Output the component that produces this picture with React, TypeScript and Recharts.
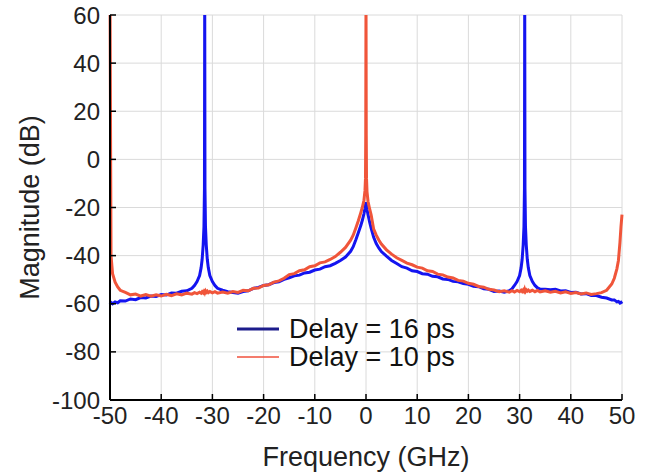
import React from 'react';
import {
  LineChart,
  Line,
  XAxis,
  YAxis,
  CartesianGrid,
  Legend,
  Label
} from 'recharts';

const FONT = '"Liberation Sans", Arial, Helvetica, sans-serif';

// frequency grid (GHz), denser around the tones
const freq = [
  -50, -49.8, -49.5, -49, -48.5, -48, -47, -46, -45, -44,
  -43, -42, -41, -40, -39, -38, -37, -36, -35, -34,
  -33.5, -33, -32.5, -32.2, -32, -31.8, -31.65, -31.55, -31.5, -31.45,
  -31.35, -31.2, -31, -30.8, -30.5, -30, -29.5, -29, -28, -27,
  -26, -25, -24, -23, -22, -21, -20, -19, -18, -17,
  -16, -15, -14, -13, -12, -11, -10, -9, -8, -7,
  -6, -5, -4, -3, -2.5, -2, -1.5, -1, -0.7, -0.4,
  -0.2, -0.1, -0.05, 0, 0.05, 0.1, 0.2, 0.4, 0.7, 1,
  1.5, 2, 2.5, 3, 4, 5, 6, 7, 8, 9,
  10, 11, 12, 13, 14, 15, 16, 17, 18, 19,
  20, 21, 22, 23, 24, 25, 26, 27, 28, 28.5,
  29, 29.5, 30, 30.3, 30.5, 30.7, 30.85, 30.95, 31, 31.05,
  31.15, 31.3, 31.5, 31.7, 32, 32.5, 33, 33.5, 34, 35,
  36, 37, 38, 39, 40, 41, 42, 43, 44, 45,
  46, 47, 48, 48.5, 49, 49.3, 49.6, 49.8, 50
];

// Delay = 16 ps (dB)
const delay16 = [
  -60.2, -59.5, -60.0, -59.2, -59.6, -58.8, -58.9, -58.0, -58.3, -57.4,
  -57.6, -56.8, -57.0, -56.2, -56.4, -55.5, -55.6, -54.8, -54.6, -53.6,
  -52.4, -50.8, -48.3, -45.0, -41.5, -35.5, -28.0, -12.0, 70, -12.0,
  -28.0, -35.5, -41.5, -45.0, -48.3, -50.8, -52.4, -53.6, -54.4, -55.0,
  -55.3, -55.6, -54.9, -54.6, -53.6, -53.2, -52.4, -52.1, -51.2, -50.9,
  -49.9, -49.2, -48.4, -48.1, -47.2, -46.9, -46.0, -45.6, -44.6, -44.2,
  -43.2, -42.0, -40.6, -38.2, -36.3, -33.5, -30.5, -27.4, -25.2, -22.6,
  -20.4, -19.0, -18.3, -17.8, -18.3, -19.2, -20.8, -23.0, -26.0, -28.6,
  -32.4, -35.0, -36.8, -38.3, -40.2, -42.0, -43.3, -44.6, -45.2, -46.3,
  -46.6, -47.5, -47.7, -48.6, -48.8, -49.7, -49.9, -50.7, -50.9, -51.6,
  -51.9, -52.7, -52.9, -53.8, -54.0, -54.9, -54.7, -55.2, -54.6, -53.8,
  -52.4, -50.8, -48.3, -45.0, -41.5, -35.5, -28.0, -12.0, 70, -12.0,
  -28.0, -35.5, -41.5, -45.0, -48.3, -50.8, -52.4, -53.4, -53.9, -54.0,
  -54.2, -54.0, -54.7, -54.6, -55.3, -55.2, -55.9, -55.8, -56.6, -56.6,
  -57.3, -57.6, -58.4, -58.4, -59.2, -59.0, -59.7, -59.4, -60.0
];

// Delay = 10 ps (dB)
const delay10 = [
  70, -40.0, -47.5, -51.0, -53.0, -54.4, -55.3, -56.3, -56.0, -56.8,
  -56.2, -56.9, -56.3, -56.8, -56.1, -56.6, -55.9, -56.3, -55.6, -56.0,
  -55.4, -55.8, -55.2, -55.6, -55.0, -55.5, -54.9, -55.3, -54.8, -55.2,
  -54.7, -55.3, -54.8, -55.4, -54.9, -55.5, -55.0, -55.6, -55.1, -55.6,
  -54.9, -55.3, -54.4, -54.6, -53.6, -53.5, -52.4, -52.1, -51.0, -50.5,
  -49.4, -47.9, -47.5, -46.3, -45.9, -44.6, -44.2, -43.0, -42.6, -41.6,
  -40.4, -38.6, -36.6, -33.6, -31.5, -28.6, -25.5, -22.0, -19.8, -17.0,
  -13.0, -8.0, 10, 70, 10, -8.0, -13.5, -17.5, -20.5, -23.0,
  -29.0, -31.5, -33.5, -35.2, -37.6, -39.4, -40.9, -42.0, -43.1, -43.8,
  -44.8, -45.2, -46.3, -46.6, -47.7, -48.0, -48.9, -49.3, -50.3, -50.6,
  -51.5, -51.9, -52.8, -53.1, -54.0, -54.3, -55.0, -54.6, -55.2, -54.6,
  -55.1, -54.5, -55.0, -54.4, -54.9, -54.3, -54.8, -54.2, -54.7, -54.3,
  -54.8, -54.2, -54.7, -54.3, -54.9, -54.4, -55.0, -54.5, -55.1, -54.6,
  -55.2, -54.8, -55.5, -55.0, -55.7, -55.3, -55.9, -55.5, -56.1, -55.8,
  -55.4, -54.4, -51.8, -49.4, -45.5, -42.0, -34.5, -28.0, -23.0
];

const xTicks = [-50, -40, -30, -20, -10, 0, 10, 20, 30, 40, 50];
const yTicks = [-100, -80, -60, -40, -20, 0, 20, 40, 60];

const legendItems = [
  { label: 'Delay = 16 ps', color: '#1c1c8c', width: 3 },
  { label: 'Delay = 10 ps', color: '#f0503c', width: 1.5 }
];

const data = freq.map((f, i) => ({ f, d16: delay16[i], d10: delay10[i] }));

const renderLegend = () => (
  <div style={{ fontFamily: FONT, fontSize: 27, color: '#111', lineHeight: '28px' }}>
    {legendItems.map((item) => (
      <div key={item.label} style={{ display: 'flex', alignItems: 'center' }}>
        <svg width={42} height={6} style={{ marginRight: 10 }}>
          <line x1={0} y1={3} x2={42} y2={3} stroke={item.color} strokeWidth={item.width} />
        </svg>
        <span>{item.label}</span>
      </div>
    ))}
  </div>
);

export default function App() {
  return (
    <div style={{ position: 'absolute', left: 0, top: 0, background: '#fff' }}>
      <LineChart
        width={660}
        height={476}
        data={data}
        margin={{ top: 15, right: 38, left: 0, bottom: 0 }}
      >
        <CartesianGrid stroke="#dadada" strokeWidth={1} />
        <XAxis
          dataKey="f"
          type="number"
          domain={[-50, 50]}
          ticks={xTicks}
          height={76}
          tickSize={-6}
          tickMargin={13}
          axisLine={{ stroke: '#000', strokeWidth: 2 }}
          tickLine={{ stroke: '#000', strokeWidth: 1.5 }}
          tick={{ fill: '#222', fontSize: 24, fontFamily: FONT }}
        >
          <Label
            content={(props: any) => {
              const vb = props.viewBox;
              return (
                <text
                  x={vb.x + vb.width / 2}
                  y={vb.y + 57}
                  textAnchor="middle"
                  dominantBaseline="central"
                  fontSize={27}
                  fontFamily={FONT}
                  fill="#222"
                >
                  Frequency (GHz)
                </text>
              );
            }}
          />
        </XAxis>
        <XAxis
          xAxisId="top"
          orientation="top"
          type="number"
          domain={[-50, 50]}
          height={0}
          tick={false}
          tickLine={false}
          axisLine={{ stroke: '#000', strokeWidth: 2.5 }}
        />
        <YAxis
          type="number"
          domain={[-100, 60]}
          ticks={yTicks}
          allowDataOverflow
          width={110}
          tickSize={-6}
          tickMargin={16}
          axisLine={{ stroke: '#000', strokeWidth: 2 }}
          tickLine={{ stroke: '#000', strokeWidth: 1.5 }}
          tick={{ fill: '#222', fontSize: 24, fontFamily: FONT }}
        >
          <Label
            content={(props: any) => {
              const vb = props.viewBox;
              const cx = vb.x + 30;
              const cy = vb.y + vb.height / 2;
              return (
                <text
                  x={cx}
                  y={cy}
                  transform={`rotate(-90 ${cx} ${cy})`}
                  textAnchor="middle"
                  dominantBaseline="central"
                  fontSize={27}
                  fontFamily={FONT}
                  fill="#222"
                >
                  Magnitude (dB)
                </text>
              );
            }}
          />
        </YAxis>
        <YAxis
          yAxisId="right"
          orientation="right"
          type="number"
          domain={[-100, 60]}
          width={0}
          tick={false}
          tickLine={false}
          axisLine={{ stroke: '#000', strokeWidth: 1.5 }}
        />
        <Legend
          layout="vertical"
          align="center"
          verticalAlign="middle"
          content={renderLegend}
          wrapperStyle={{ left: 237, top: 315, width: 'auto' }}
        />
        <Line
          dataKey="d16"
          name="Delay = 16 ps"
          type="linear"
          stroke="#1414f0"
          strokeWidth={3}
          dot={false}
          isAnimationActive={false}
        />
        <Line
          dataKey="d10"
          name="Delay = 10 ps"
          type="linear"
          stroke="#f0553a"
          strokeWidth={3}
          dot={false}
          isAnimationActive={false}
        />
      </LineChart>
    </div>
  );
}
